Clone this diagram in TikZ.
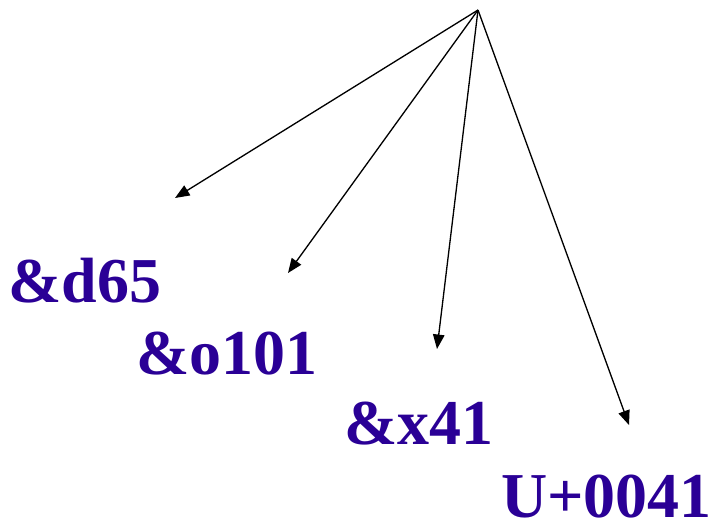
\documentclass[tikz,border=0pt]{standalone}
\usepackage{fontspec}
\setmainfont{Liberation Serif}
\usetikzlibrary{arrows.meta}
\definecolor{refblue}{RGB}{42,0,150}

\begin{document}
\begin{tikzpicture}[x=0.02cm,y=-0.02cm,
    ref/.style={anchor=base west,inner sep=0pt,text depth=0pt,text=refblue,font=\fontsize{36.4}{40}\selectfont\bfseries},
    ptr/.style={-{Triangle[length=0.29cm,width=0.23cm]},line width=0.75pt}]
                \useasboundingbox (0,0) rectangle (713,522);
                \coordinate (top) at (478,10);
                \coordinate (tipd) at (175,198);
                \coordinate (tipo) at (288,273);
                \coordinate (tipx) at (437,349);
                \coordinate (tipu) at (629,425);
                \draw[ptr] (top)--(tipd);
                \draw[ptr] (top)--(tipo);
                \draw[ptr] (top)--(tipx);
                \draw[ptr] (top)--(tipu);
                \node[ref] (dec) at (8,302) {\&d65};
                \node[ref] (oct) at (136,374) {\&o101};
                \node[ref] (hex) at (344,444) {\&x41};
                \node[ref] (uni) at (501,517) {U+0041};
            \end{tikzpicture}
\end{document}
